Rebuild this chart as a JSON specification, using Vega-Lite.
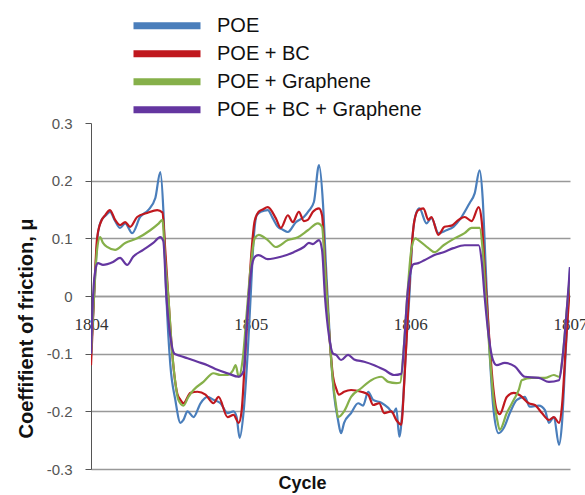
{
 "$schema": "https://vega.github.io/schema/vega-lite/v6.json",
 "width": 479, "height": 346,
 "autosize": {"type": "none"},
 "padding": {"left": 91, "top": 123, "right": 15, "bottom": 26},
 "background": "white",
 "config": {"view": {"stroke": null}},
 "datasets": {"d": [
{"series":"POE","cycle":1804.000,"mu":-0.1},{"series":"POE","cycle":1804.019,"mu":0.0},{"series":"POE","cycle":1804.044,"mu":0.11},{"series":"POE","cycle":1804.063,"mu":0.13},{"series":"POE","cycle":1804.094,"mu":0.14},{"series":"POE","cycle":1804.119,"mu":0.146},{"series":"POE","cycle":1804.151,"mu":0.13},{"series":"POE","cycle":1804.182,"mu":0.118},{"series":"POE","cycle":1804.214,"mu":0.126},{"series":"POE","cycle":1804.258,"mu":0.109},{"series":"POE","cycle":1804.308,"mu":0.137},{"series":"POE","cycle":1804.358,"mu":0.149},{"series":"POE","cycle":1804.403,"mu":0.17},{"series":"POE","cycle":1804.434,"mu":0.215},{"series":"POE","cycle":1804.453,"mu":0.15},{"series":"POE","cycle":1804.472,"mu":0.0},{"series":"POE","cycle":1804.497,"mu":-0.12},{"series":"POE","cycle":1804.528,"mu":-0.18},{"series":"POE","cycle":1804.560,"mu":-0.22},{"series":"POE","cycle":1804.579,"mu":-0.215},{"series":"POE","cycle":1804.604,"mu":-0.2},{"series":"POE","cycle":1804.642,"mu":-0.21},{"series":"POE","cycle":1804.686,"mu":-0.186},{"series":"POE","cycle":1804.730,"mu":-0.175},{"series":"POE","cycle":1804.767,"mu":-0.18},{"series":"POE","cycle":1804.811,"mu":-0.186},{"series":"POE","cycle":1804.855,"mu":-0.203},{"series":"POE","cycle":1804.893,"mu":-0.2},{"series":"POE","cycle":1804.912,"mu":-0.21},{"series":"POE","cycle":1804.931,"mu":-0.246},{"series":"POE","cycle":1804.956,"mu":-0.2},{"series":"POE","cycle":1804.981,"mu":-0.1},{"series":"POE","cycle":1805.000,"mu":0.0},{"series":"POE","cycle":1805.019,"mu":0.1},{"series":"POE","cycle":1805.038,"mu":0.14},{"series":"POE","cycle":1805.063,"mu":0.146},{"series":"POE","cycle":1805.107,"mu":0.149},{"series":"POE","cycle":1805.138,"mu":0.135},{"series":"POE","cycle":1805.170,"mu":0.12},{"series":"POE","cycle":1805.201,"mu":0.115},{"series":"POE","cycle":1805.233,"mu":0.111},{"series":"POE","cycle":1805.283,"mu":0.128},{"series":"POE","cycle":1805.333,"mu":0.137},{"series":"POE","cycle":1805.365,"mu":0.148},{"series":"POE","cycle":1805.396,"mu":0.163},{"series":"POE","cycle":1805.428,"mu":0.227},{"series":"POE","cycle":1805.453,"mu":0.16},{"series":"POE","cycle":1805.472,"mu":0.05},{"series":"POE","cycle":1805.497,"mu":-0.08},{"series":"POE","cycle":1805.522,"mu":-0.17},{"series":"POE","cycle":1805.547,"mu":-0.215},{"series":"POE","cycle":1805.566,"mu":-0.238},{"series":"POE","cycle":1805.585,"mu":-0.22},{"series":"POE","cycle":1805.629,"mu":-0.203},{"series":"POE","cycle":1805.673,"mu":-0.186},{"series":"POE","cycle":1805.704,"mu":-0.19},{"series":"POE","cycle":1805.736,"mu":-0.166},{"series":"POE","cycle":1805.767,"mu":-0.18},{"series":"POE","cycle":1805.818,"mu":-0.185},{"series":"POE","cycle":1805.862,"mu":-0.194},{"series":"POE","cycle":1805.893,"mu":-0.203},{"series":"POE","cycle":1805.912,"mu":-0.195},{"series":"POE","cycle":1805.931,"mu":-0.244},{"series":"POE","cycle":1805.950,"mu":-0.2},{"series":"POE","cycle":1805.975,"mu":-0.08},{"series":"POE","cycle":1805.994,"mu":0.0},{"series":"POE","cycle":1806.013,"mu":0.1},{"series":"POE","cycle":1806.038,"mu":0.145},{"series":"POE","cycle":1806.057,"mu":0.152},{"series":"POE","cycle":1806.101,"mu":0.126},{"series":"POE","cycle":1806.132,"mu":0.135},{"series":"POE","cycle":1806.176,"mu":0.109},{"series":"POE","cycle":1806.226,"mu":0.114},{"series":"POE","cycle":1806.270,"mu":0.12},{"series":"POE","cycle":1806.321,"mu":0.137},{"series":"POE","cycle":1806.371,"mu":0.161},{"series":"POE","cycle":1806.403,"mu":0.178},{"series":"POE","cycle":1806.434,"mu":0.218},{"series":"POE","cycle":1806.453,"mu":0.17},{"series":"POE","cycle":1806.472,"mu":0.05},{"series":"POE","cycle":1806.497,"mu":-0.1},{"series":"POE","cycle":1806.522,"mu":-0.2},{"series":"POE","cycle":1806.553,"mu":-0.238},{"series":"POE","cycle":1806.585,"mu":-0.229},{"series":"POE","cycle":1806.623,"mu":-0.203},{"series":"POE","cycle":1806.667,"mu":-0.18},{"series":"POE","cycle":1806.717,"mu":-0.175},{"series":"POE","cycle":1806.748,"mu":-0.192},{"series":"POE","cycle":1806.805,"mu":-0.19},{"series":"POE","cycle":1806.843,"mu":-0.198},{"series":"POE","cycle":1806.868,"mu":-0.22},{"series":"POE","cycle":1806.899,"mu":-0.21},{"series":"POE","cycle":1806.931,"mu":-0.258},{"series":"POE","cycle":1806.950,"mu":-0.22},{"series":"POE","cycle":1806.969,"mu":-0.12},{"series":"POE","cycle":1806.987,"mu":-0.02},{"series":"POE","cycle":1807.000,"mu":0.05},
{"series":"POE + BC","cycle":1804.000,"mu":-0.12},{"series":"POE + BC","cycle":1804.019,"mu":0.0},{"series":"POE + BC","cycle":1804.038,"mu":0.1},{"series":"POE + BC","cycle":1804.057,"mu":0.125},{"series":"POE + BC","cycle":1804.088,"mu":0.14},{"series":"POE + BC","cycle":1804.119,"mu":0.149},{"series":"POE + BC","cycle":1804.151,"mu":0.132},{"series":"POE + BC","cycle":1804.182,"mu":0.123},{"series":"POE + BC","cycle":1804.214,"mu":0.128},{"series":"POE + BC","cycle":1804.245,"mu":0.12},{"series":"POE + BC","cycle":1804.289,"mu":0.137},{"series":"POE + BC","cycle":1804.352,"mu":0.144},{"series":"POE + BC","cycle":1804.415,"mu":0.149},{"series":"POE + BC","cycle":1804.447,"mu":0.145},{"series":"POE + BC","cycle":1804.465,"mu":0.08},{"series":"POE + BC","cycle":1804.484,"mu":0.0},{"series":"POE + BC","cycle":1804.509,"mu":-0.1},{"series":"POE + BC","cycle":1804.541,"mu":-0.17},{"series":"POE + BC","cycle":1804.560,"mu":-0.18},{"series":"POE + BC","cycle":1804.579,"mu":-0.186},{"series":"POE + BC","cycle":1804.623,"mu":-0.168},{"series":"POE + BC","cycle":1804.667,"mu":-0.166},{"series":"POE + BC","cycle":1804.717,"mu":-0.171},{"series":"POE + BC","cycle":1804.767,"mu":-0.186},{"series":"POE + BC","cycle":1804.799,"mu":-0.175},{"series":"POE + BC","cycle":1804.855,"mu":-0.21},{"series":"POE + BC","cycle":1804.893,"mu":-0.206},{"series":"POE + BC","cycle":1804.925,"mu":-0.22},{"series":"POE + BC","cycle":1804.943,"mu":-0.2},{"series":"POE + BC","cycle":1804.962,"mu":-0.12},{"series":"POE + BC","cycle":1804.987,"mu":0.0},{"series":"POE + BC","cycle":1805.006,"mu":0.08},{"series":"POE + BC","cycle":1805.025,"mu":0.13},{"series":"POE + BC","cycle":1805.050,"mu":0.146},{"series":"POE + BC","cycle":1805.075,"mu":0.15},{"series":"POE + BC","cycle":1805.107,"mu":0.154},{"series":"POE + BC","cycle":1805.157,"mu":0.135},{"series":"POE + BC","cycle":1805.189,"mu":0.118},{"series":"POE + BC","cycle":1805.233,"mu":0.14},{"series":"POE + BC","cycle":1805.264,"mu":0.128},{"series":"POE + BC","cycle":1805.302,"mu":0.146},{"series":"POE + BC","cycle":1805.333,"mu":0.13},{"series":"POE + BC","cycle":1805.358,"mu":0.132},{"series":"POE + BC","cycle":1805.390,"mu":0.146},{"series":"POE + BC","cycle":1805.428,"mu":0.152},{"series":"POE + BC","cycle":1805.447,"mu":0.14},{"series":"POE + BC","cycle":1805.465,"mu":0.06},{"series":"POE + BC","cycle":1805.491,"mu":-0.06},{"series":"POE + BC","cycle":1805.516,"mu":-0.14},{"series":"POE + BC","cycle":1805.535,"mu":-0.16},{"series":"POE + BC","cycle":1805.553,"mu":-0.171},{"series":"POE + BC","cycle":1805.585,"mu":-0.166},{"series":"POE + BC","cycle":1805.629,"mu":-0.163},{"series":"POE + BC","cycle":1805.692,"mu":-0.166},{"series":"POE + BC","cycle":1805.736,"mu":-0.171},{"series":"POE + BC","cycle":1805.767,"mu":-0.189},{"series":"POE + BC","cycle":1805.805,"mu":-0.186},{"series":"POE + BC","cycle":1805.836,"mu":-0.203},{"series":"POE + BC","cycle":1805.881,"mu":-0.2},{"series":"POE + BC","cycle":1805.912,"mu":-0.215},{"series":"POE + BC","cycle":1805.943,"mu":-0.223},{"series":"POE + BC","cycle":1805.962,"mu":-0.15},{"series":"POE + BC","cycle":1805.981,"mu":-0.05},{"series":"POE + BC","cycle":1806.000,"mu":0.05},{"series":"POE + BC","cycle":1806.025,"mu":0.13},{"series":"POE + BC","cycle":1806.050,"mu":0.149},{"series":"POE + BC","cycle":1806.082,"mu":0.152},{"series":"POE + BC","cycle":1806.113,"mu":0.132},{"series":"POE + BC","cycle":1806.132,"mu":0.137},{"series":"POE + BC","cycle":1806.176,"mu":0.106},{"series":"POE + BC","cycle":1806.214,"mu":0.12},{"series":"POE + BC","cycle":1806.258,"mu":0.122},{"series":"POE + BC","cycle":1806.302,"mu":0.132},{"series":"POE + BC","cycle":1806.340,"mu":0.137},{"series":"POE + BC","cycle":1806.384,"mu":0.13},{"series":"POE + BC","cycle":1806.428,"mu":0.154},{"series":"POE + BC","cycle":1806.447,"mu":0.13},{"series":"POE + BC","cycle":1806.465,"mu":0.05},{"series":"POE + BC","cycle":1806.491,"mu":-0.06},{"series":"POE + BC","cycle":1806.516,"mu":-0.15},{"series":"POE + BC","cycle":1806.541,"mu":-0.198},{"series":"POE + BC","cycle":1806.560,"mu":-0.205},{"series":"POE + BC","cycle":1806.604,"mu":-0.175},{"series":"POE + BC","cycle":1806.648,"mu":-0.168},{"series":"POE + BC","cycle":1806.686,"mu":-0.172},{"series":"POE + BC","cycle":1806.742,"mu":-0.186},{"series":"POE + BC","cycle":1806.780,"mu":-0.189},{"series":"POE + BC","cycle":1806.824,"mu":-0.203},{"series":"POE + BC","cycle":1806.868,"mu":-0.215},{"series":"POE + BC","cycle":1806.899,"mu":-0.21},{"series":"POE + BC","cycle":1806.931,"mu":-0.22},{"series":"POE + BC","cycle":1806.950,"mu":-0.19},{"series":"POE + BC","cycle":1806.975,"mu":-0.08},{"series":"POE + BC","cycle":1807.000,"mu":0.02},
{"series":"POE + Graphene","cycle":1804.000,"mu":-0.1},{"series":"POE + Graphene","cycle":1804.019,"mu":0.0},{"series":"POE + Graphene","cycle":1804.038,"mu":0.08},{"series":"POE + Graphene","cycle":1804.057,"mu":0.102},{"series":"POE + Graphene","cycle":1804.075,"mu":0.092},{"series":"POE + Graphene","cycle":1804.101,"mu":0.085},{"series":"POE + Graphene","cycle":1804.151,"mu":0.08},{"series":"POE + Graphene","cycle":1804.214,"mu":0.092},{"series":"POE + Graphene","cycle":1804.289,"mu":0.1},{"series":"POE + Graphene","cycle":1804.371,"mu":0.114},{"series":"POE + Graphene","cycle":1804.421,"mu":0.125},{"series":"POE + Graphene","cycle":1804.447,"mu":0.132},{"series":"POE + Graphene","cycle":1804.465,"mu":0.06},{"series":"POE + Graphene","cycle":1804.484,"mu":0.0},{"series":"POE + Graphene","cycle":1804.509,"mu":-0.1},{"series":"POE + Graphene","cycle":1804.528,"mu":-0.15},{"series":"POE + Graphene","cycle":1804.547,"mu":-0.18},{"series":"POE + Graphene","cycle":1804.579,"mu":-0.19},{"series":"POE + Graphene","cycle":1804.610,"mu":-0.175},{"series":"POE + Graphene","cycle":1804.642,"mu":-0.163},{"series":"POE + Graphene","cycle":1804.704,"mu":-0.149},{"series":"POE + Graphene","cycle":1804.767,"mu":-0.134},{"series":"POE + Graphene","cycle":1804.811,"mu":-0.137},{"series":"POE + Graphene","cycle":1804.855,"mu":-0.137},{"series":"POE + Graphene","cycle":1804.887,"mu":-0.13},{"series":"POE + Graphene","cycle":1804.906,"mu":-0.12},{"series":"POE + Graphene","cycle":1804.925,"mu":-0.14},{"series":"POE + Graphene","cycle":1804.950,"mu":-0.11},{"series":"POE + Graphene","cycle":1804.975,"mu":-0.03},{"series":"POE + Graphene","cycle":1805.000,"mu":0.05},{"series":"POE + Graphene","cycle":1805.025,"mu":0.1},{"series":"POE + Graphene","cycle":1805.050,"mu":0.106},{"series":"POE + Graphene","cycle":1805.107,"mu":0.097},{"series":"POE + Graphene","cycle":1805.157,"mu":0.085},{"series":"POE + Graphene","cycle":1805.233,"mu":0.097},{"series":"POE + Graphene","cycle":1805.296,"mu":0.102},{"series":"POE + Graphene","cycle":1805.358,"mu":0.114},{"series":"POE + Graphene","cycle":1805.421,"mu":0.126},{"series":"POE + Graphene","cycle":1805.447,"mu":0.12},{"series":"POE + Graphene","cycle":1805.465,"mu":0.05},{"series":"POE + Graphene","cycle":1805.491,"mu":-0.06},{"series":"POE + Graphene","cycle":1805.516,"mu":-0.15},{"series":"POE + Graphene","cycle":1805.535,"mu":-0.19},{"series":"POE + Graphene","cycle":1805.547,"mu":-0.21},{"series":"POE + Graphene","cycle":1805.585,"mu":-0.2},{"series":"POE + Graphene","cycle":1805.629,"mu":-0.175},{"series":"POE + Graphene","cycle":1805.692,"mu":-0.16},{"series":"POE + Graphene","cycle":1805.755,"mu":-0.146},{"series":"POE + Graphene","cycle":1805.818,"mu":-0.14},{"series":"POE + Graphene","cycle":1805.862,"mu":-0.149},{"series":"POE + Graphene","cycle":1805.912,"mu":-0.151},{"series":"POE + Graphene","cycle":1805.937,"mu":-0.15},{"series":"POE + Graphene","cycle":1805.956,"mu":-0.1},{"series":"POE + Graphene","cycle":1805.981,"mu":0.0},{"series":"POE + Graphene","cycle":1806.006,"mu":0.08},{"series":"POE + Graphene","cycle":1806.031,"mu":0.1},{"series":"POE + Graphene","cycle":1806.050,"mu":0.097},{"series":"POE + Graphene","cycle":1806.113,"mu":0.083},{"series":"POE + Graphene","cycle":1806.151,"mu":0.076},{"series":"POE + Graphene","cycle":1806.208,"mu":0.088},{"series":"POE + Graphene","cycle":1806.277,"mu":0.1},{"series":"POE + Graphene","cycle":1806.340,"mu":0.109},{"series":"POE + Graphene","cycle":1806.384,"mu":0.118},{"series":"POE + Graphene","cycle":1806.434,"mu":0.118},{"series":"POE + Graphene","cycle":1806.453,"mu":0.08},{"series":"POE + Graphene","cycle":1806.472,"mu":0.0},{"series":"POE + Graphene","cycle":1806.497,"mu":-0.1},{"series":"POE + Graphene","cycle":1806.522,"mu":-0.18},{"series":"POE + Graphene","cycle":1806.541,"mu":-0.21},{"series":"POE + Graphene","cycle":1806.560,"mu":-0.232},{"series":"POE + Graphene","cycle":1806.604,"mu":-0.203},{"series":"POE + Graphene","cycle":1806.648,"mu":-0.18},{"series":"POE + Graphene","cycle":1806.679,"mu":-0.163},{"series":"POE + Graphene","cycle":1806.698,"mu":-0.146},{"series":"POE + Graphene","cycle":1806.761,"mu":-0.142},{"series":"POE + Graphene","cycle":1806.843,"mu":-0.142},{"series":"POE + Graphene","cycle":1806.899,"mu":-0.137},{"series":"POE + Graphene","cycle":1806.931,"mu":-0.14},{"series":"POE + Graphene","cycle":1806.956,"mu":-0.1},{"series":"POE + Graphene","cycle":1806.981,"mu":-0.02},{"series":"POE + Graphene","cycle":1807.000,"mu":0.03},
{"series":"POE + BC + Graphene","cycle":1804.000,"mu":-0.1},{"series":"POE + BC + Graphene","cycle":1804.013,"mu":0.0},{"series":"POE + BC + Graphene","cycle":1804.031,"mu":0.05},{"series":"POE + BC + Graphene","cycle":1804.044,"mu":0.057},{"series":"POE + BC + Graphene","cycle":1804.075,"mu":0.054},{"series":"POE + BC + Graphene","cycle":1804.138,"mu":0.059},{"series":"POE + BC + Graphene","cycle":1804.182,"mu":0.066},{"series":"POE + BC + Graphene","cycle":1804.226,"mu":0.054},{"series":"POE + BC + Graphene","cycle":1804.264,"mu":0.068},{"series":"POE + BC + Graphene","cycle":1804.327,"mu":0.08},{"series":"POE + BC + Graphene","cycle":1804.390,"mu":0.092},{"series":"POE + BC + Graphene","cycle":1804.434,"mu":0.102},{"series":"POE + BC + Graphene","cycle":1804.453,"mu":0.095},{"series":"POE + BC + Graphene","cycle":1804.472,"mu":0.0},{"series":"POE + BC + Graphene","cycle":1804.497,"mu":-0.07},{"series":"POE + BC + Graphene","cycle":1804.522,"mu":-0.1},{"series":"POE + BC + Graphene","cycle":1804.560,"mu":-0.104},{"series":"POE + BC + Graphene","cycle":1804.604,"mu":-0.108},{"series":"POE + BC + Graphene","cycle":1804.667,"mu":-0.114},{"series":"POE + BC + Graphene","cycle":1804.730,"mu":-0.12},{"series":"POE + BC + Graphene","cycle":1804.792,"mu":-0.128},{"series":"POE + BC + Graphene","cycle":1804.855,"mu":-0.134},{"series":"POE + BC + Graphene","cycle":1804.925,"mu":-0.14},{"series":"POE + BC + Graphene","cycle":1804.956,"mu":-0.13},{"series":"POE + BC + Graphene","cycle":1804.975,"mu":-0.05},{"series":"POE + BC + Graphene","cycle":1804.994,"mu":0.02},{"series":"POE + BC + Graphene","cycle":1805.013,"mu":0.06},{"series":"POE + BC + Graphene","cycle":1805.031,"mu":0.069},{"series":"POE + BC + Graphene","cycle":1805.050,"mu":0.071},{"series":"POE + BC + Graphene","cycle":1805.107,"mu":0.064},{"series":"POE + BC + Graphene","cycle":1805.189,"mu":0.068},{"series":"POE + BC + Graphene","cycle":1805.270,"mu":0.076},{"series":"POE + BC + Graphene","cycle":1805.333,"mu":0.085},{"series":"POE + BC + Graphene","cycle":1805.365,"mu":0.092},{"series":"POE + BC + Graphene","cycle":1805.390,"mu":0.09},{"series":"POE + BC + Graphene","cycle":1805.428,"mu":0.097},{"series":"POE + BC + Graphene","cycle":1805.447,"mu":0.08},{"series":"POE + BC + Graphene","cycle":1805.465,"mu":0.0},{"series":"POE + BC + Graphene","cycle":1805.491,"mu":-0.07},{"series":"POE + BC + Graphene","cycle":1805.516,"mu":-0.1},{"series":"POE + BC + Graphene","cycle":1805.535,"mu":-0.102},{"series":"POE + BC + Graphene","cycle":1805.566,"mu":-0.111},{"series":"POE + BC + Graphene","cycle":1805.610,"mu":-0.102},{"series":"POE + BC + Graphene","cycle":1805.648,"mu":-0.11},{"series":"POE + BC + Graphene","cycle":1805.711,"mu":-0.114},{"series":"POE + BC + Graphene","cycle":1805.774,"mu":-0.12},{"series":"POE + BC + Graphene","cycle":1805.836,"mu":-0.128},{"series":"POE + BC + Graphene","cycle":1805.899,"mu":-0.137},{"series":"POE + BC + Graphene","cycle":1805.943,"mu":-0.135},{"series":"POE + BC + Graphene","cycle":1805.962,"mu":-0.08},{"series":"POE + BC + Graphene","cycle":1805.981,"mu":0.0},{"series":"POE + BC + Graphene","cycle":1806.000,"mu":0.04},{"series":"POE + BC + Graphene","cycle":1806.019,"mu":0.055},{"series":"POE + BC + Graphene","cycle":1806.050,"mu":0.057},{"series":"POE + BC + Graphene","cycle":1806.088,"mu":0.062},{"series":"POE + BC + Graphene","cycle":1806.151,"mu":0.071},{"series":"POE + BC + Graphene","cycle":1806.208,"mu":0.076},{"series":"POE + BC + Graphene","cycle":1806.270,"mu":0.083},{"series":"POE + BC + Graphene","cycle":1806.340,"mu":0.088},{"series":"POE + BC + Graphene","cycle":1806.428,"mu":0.088},{"series":"POE + BC + Graphene","cycle":1806.447,"mu":0.06},{"series":"POE + BC + Graphene","cycle":1806.465,"mu":0.0},{"series":"POE + BC + Graphene","cycle":1806.491,"mu":-0.07},{"series":"POE + BC + Graphene","cycle":1806.516,"mu":-0.11},{"series":"POE + BC + Graphene","cycle":1806.541,"mu":-0.12},{"series":"POE + BC + Graphene","cycle":1806.591,"mu":-0.116},{"series":"POE + BC + Graphene","cycle":1806.654,"mu":-0.122},{"series":"POE + BC + Graphene","cycle":1806.717,"mu":-0.14},{"series":"POE + BC + Graphene","cycle":1806.805,"mu":-0.142},{"series":"POE + BC + Graphene","cycle":1806.868,"mu":-0.149},{"series":"POE + BC + Graphene","cycle":1806.931,"mu":-0.146},{"series":"POE + BC + Graphene","cycle":1806.956,"mu":-0.1},{"series":"POE + BC + Graphene","cycle":1806.981,"mu":-0.02},{"series":"POE + BC + Graphene","cycle":1807.000,"mu":0.05}
 ]},
 "data": {"name": "d"},
 "mark": {"type": "line", "interpolate": "monotone", "strokeWidth": 2.2, "clip": true},
 "encoding": {
  "x": {"field": "cycle", "type": "quantitative",
   "scale": {"domain": [1804, 1807], "nice": false, "zero": false},
   "axis": {"values": [1804, 1805, 1806, 1807], "format": "d", "offset": -173, "grid": false, "ticks": false,
    "domain": true, "domainColor": "#999", "domainWidth": 1.5, "labelFlush": false,
    "labelFont": "Liberation Serif", "labelFontSize": 17, "labelColor": "#333", "labelPadding": 20,
    "title": "Cycle", "titleFont": "Liberation Sans", "titleFontSize": 18, "titleFontWeight": "bold", "titleColor": "#111",
    "titleX": 211, "titleY": 187, "titleBaseline": "middle", "titleAlign": "center"}},
  "y": {"field": "mu", "type": "quantitative",
   "scale": {"domain": [-0.3, 0.3], "nice": false, "zero": false},
   "axis": {"values": [-0.3, -0.2, -0.1, 0, 0.1, 0.2, 0.3],
    "labelExpr": "datum.value == 0 ? '0' : (datum.value < 0 ? '-' : '') + format(abs(datum.value), '.1f')",
    "grid": true, "gridColor": {"condition": {"test": "datum.value > 0.25", "value": "transparent"}, "value": "#999"}, "gridWidth": 1.5,
    "domainColor": "#555", "tickColor": "#555", "tickSize": 6, "labelPadding": 13,
    "labelFont": "Liberation Sans", "labelFontSize": 15, "labelColor": "#555",
    "title": "Coeffifient of friction, μ", "titleFont": "Liberation Sans", "titleFontSize": 20, "titleFontWeight": "bold", "titleColor": "#111",
    "titleX": -65, "titleY": 205, "titleAngle": -90, "titleBaseline": "middle", "titleAlign": "center"}},
  "color": {"field": "series", "type": "nominal",
   "scale": {"domain": ["POE", "POE + BC", "POE + Graphene", "POE + BC + Graphene"], "range": ["#4A7EBB", "#C0181E", "#86B04A", "#6436A0"]},
   "legend": {"orient": "none", "legendX": 39, "legendY": -111, "direction": "vertical", "title": null,
    "symbolType": "stroke", "symbolStrokeWidth": 7, "symbolSize": 4489, "labelOffset": 13, "rowPadding": 0, "clipHeight": 27.7,
    "labelFont": "Liberation Sans", "labelFontSize": 20, "labelColor": "#111", "labelLimit": 400,
    "fillColor": "white", "padding": 0}}
 }
}
